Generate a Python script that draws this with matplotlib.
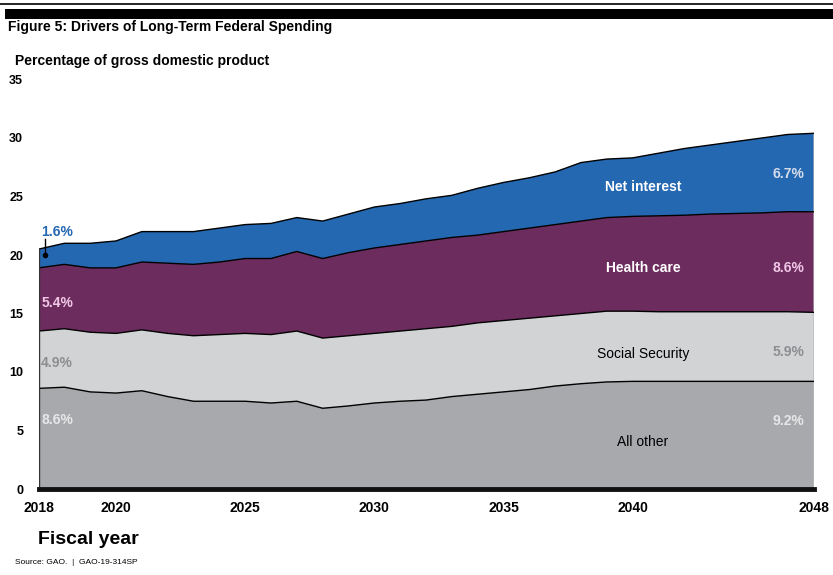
import matplotlib
matplotlib.use("Agg")
import matplotlib.pyplot as plt
import numpy as np

years = list(range(2018, 2049))
all_other = [8.6, 8.7, 8.3, 8.2, 8.4, 7.9, 7.5, 7.5, 7.5, 7.35, 7.5, 6.9, 7.1, 7.35, 7.5, 7.6,
             7.9, 8.1, 8.3, 8.5, 8.8, 9.0, 9.15, 9.2, 9.2, 9.2, 9.2, 9.2, 9.2, 9.2, 9.2]
social_security = [4.9, 5.0, 5.1, 5.1, 5.2, 5.4, 5.6, 5.7, 5.8, 5.85, 6.0, 6.0, 6.0, 5.95, 6.0, 6.1,
                   6.0, 6.1, 6.1, 6.1, 6.0, 6.0, 6.05, 6.0, 5.95, 5.95, 5.95, 5.95, 5.95, 5.95, 5.9]
health_care = [5.4, 5.5, 5.5, 5.6, 5.8, 6.0, 6.1, 6.2, 6.4, 6.5, 6.8, 6.8, 7.1, 7.3, 7.4, 7.5,
               7.6, 7.5, 7.6, 7.7, 7.8, 7.9, 8.0, 8.1, 8.2, 8.25, 8.35, 8.4, 8.45, 8.55, 8.6]
net_interest = [1.6, 1.8, 2.1, 2.3, 2.6, 2.7, 2.8, 2.9, 2.9, 3.0, 2.9, 3.2, 3.3, 3.5, 3.5, 3.6,
                3.6, 4.0, 4.2, 4.3, 4.5, 5.0, 5.0, 5.0, 5.35, 5.7, 5.9, 6.15, 6.4, 6.6, 6.7]

series_names = ["All other", "Social Security", "Health care", "Net interest"]
start_labels = ["8.6%", "4.9%", "5.4%", "1.6%"]
end_labels = ["9.2%", "5.9%", "8.6%", "6.7%"]
y_ticks = [0, 5, 10, 15, 20, 25, 30, 35]
x_tick_labels = ["2018", "2020", "2025", "2030", "2035", "2040", "2048"]

colors = ["#A7A9AC", "#D1D3D4", "#6D2C5E", "#2568B2"]
start_colors = ["#E6E7E8", "#8C8E91", "#F0C8E6", "#2568B2"]
end_colors = ["#E6E7E8", "#8C8E91", "#F0C8E6", "#D6DCEA"]
name_colors = ["black", "black", "white", "white"]
name_weights = ["normal", "normal", "bold", "bold"]

plt.rcParams['font.family'] = ['Liberation Sans', 'DejaVu Sans']
narrow = ['Liberation Sans Narrow', 'Liberation Sans', 'DejaVu Sans']

W, H = 833, 575
fig = plt.figure(figsize=(W / 100, H / 100), dpi=100)

# header rules
fig.add_artist(plt.Line2D([0, 1], [1 - 4 / H, 1 - 4 / H], color="black", lw=1.2))
fig.add_artist(plt.Rectangle((5 / W, 1 - 19 / H), 1 - 5 / W, 10 / H, color="black", lw=0))
fig.text(8 / W, 1 - 27 / H, "Figure 5: Drivers of Long-Term Federal Spending",
         fontsize=10, fontweight="bold", va="center", ha="left")
fig.text(15 / W, 1 - 61 / H, "Percentage of gross domestic product",
         fontsize=10, fontweight="bold", va="center", ha="left")

left_px, right_px = 38.5, 813.5
bottom_px, top_px = 489, 79.5
ax = fig.add_axes([left_px / W, 1 - bottom_px / H, (right_px - left_px) / W, (bottom_px - top_px) / H])

layers = [all_other, social_security, health_care, net_interest]
x = np.array(years)
base = np.zeros(len(years))
tops = []
for vals, c in zip(layers, colors):
    top = base + np.array(vals)
    ax.fill_between(x, base, top, facecolor=c, edgecolor="none", zorder=1)
    ax.plot(x, top, color="black", lw=1.0, zorder=3)
    tops.append(top)
    base = top
ax.plot([years[0], years[0]], [0, tops[-1][0]], color="#333333", lw=1.0, zorder=3)
ax.plot([years[-1], years[-1]], [0, tops[-1][-1]], color="#333333", lw=1.0, zorder=3)

ax.set_xlim(years[0], years[-1])
ax.set_ylim(0, 35)
for s in ["top", "right", "left"]:
    ax.spines[s].set_visible(False)
ax.spines["bottom"].set_linewidth(3.5)
ax.spines["bottom"].set_color("#111111")
ax.spines["bottom"].set_zorder(5)

ax.set_yticks(y_ticks)
ax.set_yticklabels([str(v) for v in y_ticks], fontsize=9, fontweight="bold")
ax.tick_params(axis="y", length=0, pad=11)
# tick label placement follows the original figure's label spacing
tick_pos = [int(x_tick_labels[0])] + [int(t) + 1 for t in x_tick_labels[1:-1]] + [int(x_tick_labels[-1])]
ax.set_xticks(tick_pos)
ax.set_xticklabels(x_tick_labels, fontsize=10, fontweight="bold", family=narrow)
ax.tick_params(axis="x", length=0, pad=9)

# start value labels
lab_y = [5.9, 10.8, 15.9, 22.0]
for i in range(4):
    ax.text(years[0] + 0.1, lab_y[i], start_labels[i], color=start_colors[i],
            fontsize=10, fontweight="bold", ha="left", va="center", zorder=6, clip_on=False)
# pointer for net interest start
ax.plot([years[0] + 0.25, years[0] + 0.25], [21.4, 20.0], color="black", lw=1.0, zorder=6, clip_on=False)
ax.plot([years[0] + 0.25], [20.0], "o", color="black", ms=3, zorder=6)

# end value labels
end_y = [5.8, 11.7, 18.9, 26.9]
for i in range(4):
    ax.text(years[-1] - 0.35, end_y[i], end_labels[i], color=end_colors[i],
            fontsize=10, fontweight="bold", ha="right", va="center", zorder=6)

# series names
name_x = 2041.4
name_y = [4.0, 11.5, 18.9, 25.8]
for i in range(4):
    ax.text(name_x, name_y[i], series_names[i], color=name_colors[i],
            fontsize=10, fontweight=name_weights[i], ha="center", va="center", zorder=6)

fig.text(38 / W, 1 - 540 / H, "Fiscal year", fontsize=14, fontweight="bold",
         family=narrow, ha="left", va="center")
fig.text(15 / W, 1 - 563 / H, "Source: GAO.  |  GAO-19-314SP", fontsize=6,
         family=narrow, ha="left", va="center")

fig.savefig("out.png", dpi=100)
